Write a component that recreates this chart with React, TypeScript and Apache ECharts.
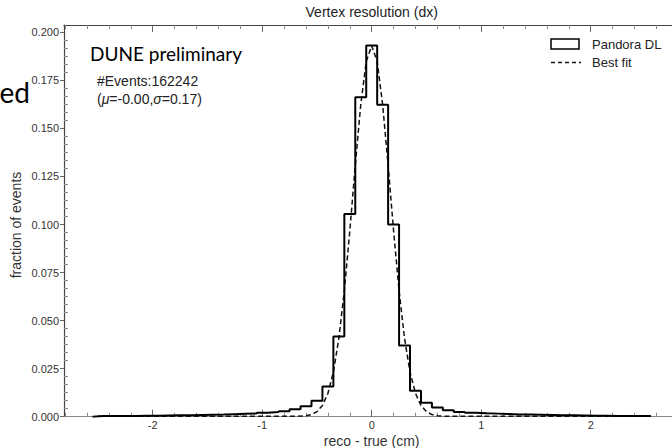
import React, { useEffect, useRef } from 'react';
import * as echarts from 'echarts';

// Histogram: bin centres (cm) and fraction of events per bin (bin width 0.1)
const binCenters = [
  -2.5, -2.4, -2.3, -2.2, -2.1, -2.0, -1.9, -1.8, -1.7, -1.6, -1.5, -1.4, -1.3,
  -1.2, -1.1, -1.0, -0.9, -0.8, -0.7, -0.6, -0.5, -0.4, -0.3, -0.2, -0.1,
  0.0,
  0.1, 0.2, 0.3, 0.4, 0.5, 0.6, 0.7, 0.8, 0.9, 1.0, 1.1, 1.2, 1.3,
  1.4, 1.5, 1.6, 1.7, 1.8, 1.9, 2.0, 2.1, 2.2, 2.3, 2.4, 2.5,
];
const binFractions = [
  0.0003, 0.0003, 0.0004, 0.0004, 0.0005, 0.0005, 0.0006, 0.0007, 0.0008, 0.0009, 0.0010, 0.0011, 0.0013,
  0.0015, 0.0017, 0.0021, 0.0024, 0.0029, 0.0039, 0.0054, 0.0083, 0.0157, 0.0417, 0.1054, 0.1662,
  0.1931,
  0.1623, 0.1000, 0.0370, 0.0135, 0.0073, 0.0048, 0.0033, 0.0025, 0.0021, 0.0018, 0.0016, 0.0014, 0.0012,
  0.0011, 0.0010, 0.0009, 0.0008, 0.0007, 0.0006, 0.0005, 0.0005, 0.0004, 0.0004, 0.0003, 0.0003,
];
const binWidth = 0.1;

// Best-fit curve
const fitX = [
  -2.5, -2.0, -1.5, -1.0, -0.8, -0.7, -0.65, -0.6, -0.55, -0.5, -0.45, -0.4, -0.35, -0.3, -0.25,
  -0.2, -0.15, -0.1, -0.05, 0.0, 0.05, 0.1, 0.15, 0.2, 0.25, 0.3, 0.35, 0.4, 0.45, 0.5, 0.55,
  0.6, 0.65, 0.7, 0.8, 1.0, 1.5, 2.0, 2.5,
];
const fitY = [
  0.0002, 0.0002, 0.0002, 0.0002, 0.0002, 0.0002, 0.0003, 0.0005, 0.0011, 0.0026, 0.0058, 0.0121, 0.0232, 0.0407, 0.0655,
  0.0966, 0.1308, 0.1623, 0.1848, 0.1930, 0.1848, 0.1623, 0.1308, 0.0966, 0.0655, 0.0407, 0.0232, 0.0121, 0.0058, 0.0026, 0.0011,
  0.0005, 0.0003, 0.0002, 0.0002, 0.0002, 0.0002, 0.0002, 0.0002,
];

const xMajorTicks = [-2, -1, 0, 1, 2];
const yMajorTicks = [0, 0.025, 0.05, 0.075, 0.1, 0.125, 0.15, 0.175, 0.2];
const X_MIN = -2.81;
const X_MAX = 2.81;
const Y_MIN = 0;
const Y_MAX = 0.2038;

const FONT = '"Liberation Sans", Arial, sans-serif';

function minorTicks(majors: number[], sub: number, min: number, max: number): number[] {
  const major = majors[1] - majors[0];
  const step = major / sub;
  const start = majors[0] - major;
  const n = Math.round((majors[majors.length - 1] + major - start) / step);
  const out: number[] = [];
  for (let i = 0; i <= n; i++) {
    const v = Math.round((start + i * step) * 1e7) / 1e7;
    if (v > min && v < max && !majors.some((m) => Math.abs(m - v) < 1e-9)) out.push(v);
  }
  return out;
}

export default function App() {
  const ref = useRef<HTMLDivElement>(null);

  useEffect(() => {
    if (!ref.current) return;
    const chart = echarts.init(ref.current, undefined, { renderer: 'svg' });

    const histPts: number[][] = [];
    histPts.push([binCenters[0] - binWidth / 2, 0]);
    binCenters.forEach((c, i) => {
      histPts.push([c - binWidth / 2, binFractions[i]]);
      histPts.push([c + binWidth / 2, binFractions[i]]);
    });
    histPts.push([binCenters[binCenters.length - 1] + binWidth / 2, 0]);

    const fitPts = fitX.map((x, i) => [x, fitY[i]]);

    const xMinor = minorTicks(xMajorTicks, 5, X_MIN, X_MAX);
    const yMinor = minorTicks(yMajorTicks, 6, Y_MIN, Y_MAX);

    const axisColor = '#666';
    const baseX = {
      type: 'value' as const,
      min: X_MIN,
      max: X_MAX,
      splitLine: { show: false },
    };
    const baseY = {
      type: 'value' as const,
      min: Y_MIN,
      max: Y_MAX,
      splitLine: { show: false },
    };

    const txt = (text: string, x: number, y: number, size: number, align: string, extra: any = {}) => ({
      type: 'text',
      x,
      y,
      ...extra,
      style: {
        text,
        fontSize: size,
        fontFamily: FONT,
        fill: '#222',
        align,
        verticalAlign: 'middle',
        textAlign: align,
        textVerticalAlign: 'middle',
        ...(extra.style || {}),
      },
    });

    chart.setOption({
      animation: false,
      backgroundColor: '#fff',
      textStyle: { fontFamily: FONT },
      grid: {
        left: 64,
        top: 25,
        width: 615.4,
        height: 391.7,
        containLabel: false,
        outerBoundsMode: 'none',
      },
      xAxis: [
        {
          ...baseX,
          position: 'bottom',
          axisLine: { show: true, onZero: false, lineStyle: { color: '#888', width: 1.2 } },
          axisTick: { show: true, inside: true, length: 7, customValues: xMajorTicks, lineStyle: { color: axisColor } },
          axisLabel: { customValues: xMajorTicks, fontSize: 11, color: '#333', margin: 3, fontFamily: FONT },
        },
        {
          ...baseX,
          position: 'bottom',
          axisLine: { show: false, onZero: false },
          axisTick: { show: true, inside: true, length: 4, customValues: xMinor, lineStyle: { color: '#888' } },
          axisLabel: { show: false },
        },
        {
          ...baseX,
          position: 'top',
          axisLine: { show: true, onZero: false, lineStyle: { color: '#444', width: 1.2 } },
          axisTick: { show: true, inside: true, length: 7, customValues: xMajorTicks, lineStyle: { color: axisColor } },
          axisLabel: { show: false },
        },
        {
          ...baseX,
          position: 'top',
          axisLine: { show: false, onZero: false },
          axisTick: { show: true, inside: true, length: 4, customValues: xMinor, lineStyle: { color: '#888' } },
          axisLabel: { show: false },
        },
      ],
      yAxis: [
        {
          ...baseY,
          position: 'left',
          axisLine: { show: true, onZero: false, lineStyle: { color: '#444', width: 1.2 } },
          axisTick: { show: true, inside: false, length: 4, customValues: yMajorTicks, lineStyle: { color: axisColor } },
          axisLabel: {
            customValues: yMajorTicks,
            fontSize: 11,
            color: '#333',
            margin: 5,
            fontFamily: FONT,
            formatter: (v: number) => v.toFixed(3),
          },
        },
        {
          ...baseY,
          position: 'left',
          axisLine: { show: false, onZero: false },
          axisTick: { show: true, inside: true, length: 4, customValues: yMinor, lineStyle: { color: '#888' } },
          axisLabel: { show: false },
        },
        {
          ...baseY,
          position: 'right',
          axisLine: { show: true, onZero: false, lineStyle: { color: '#444', width: 1.2 } },
          axisTick: { show: true, inside: true, length: 7, customValues: yMajorTicks, lineStyle: { color: axisColor } },
          axisLabel: { show: false },
        },
        {
          ...baseY,
          position: 'right',
          axisLine: { show: false, onZero: false },
          axisTick: { show: true, inside: true, length: 4, customValues: yMinor, lineStyle: { color: '#888' } },
          axisLabel: { show: false },
        },
      ],
      series: [
        {
          name: 'Best fit',
          type: 'line',
          xAxisIndex: 0,
          yAxisIndex: 0,
          data: fitPts,
          showSymbol: false,
          symbol: 'none',
          lineStyle: { color: '#111', width: 1.5, type: [5, 3] },
          z: 2,
        },
        {
          name: 'Pandora DL',
          type: 'line',
          xAxisIndex: 0,
          yAxisIndex: 0,
          data: histPts,
          showSymbol: false,
          symbol: 'none',
          lineStyle: { color: '#000', width: 2 },
          z: 3,
        },
      ],
      graphic: [
        {
          type: 'text',
          x: 30,
          y: 106,
          style: {
            text: 'ed',
            fontSize: 28,
            fontFamily: 'Lato, "Open Sans", sans-serif',
            fill: '#000',
            align: 'right',
            verticalAlign: 'bottom',
            textAlign: 'right',
            textVerticalAlign: 'bottom',
          },
        },
        txt('Vertex resolution (dx)', 371.7, 12, 14, 'center'),
        txt('reco - true (cm)', 371.7, 441, 14, 'center', { style: { fill: '#333' } }),
        txt('fraction of events', 16, 225, 14, 'center', { rotation: Math.PI / 2, style: { fill: '#333' } }),
        {
          type: 'text',
          x: 90,
          y: 53,
          style: {
            text: 'DUNE preliminary',
            fontSize: 19,
            fontFamily: 'Lato, "Open Sans", sans-serif',
            fill: '#000',
            align: 'left',
            verticalAlign: 'middle',
            textAlign: 'left',
            textVerticalAlign: 'middle',
          },
        },
        txt('#Events:162242', 97, 81, 14, 'left'),
        txt('({i|μ}=-0.00,{i|σ}=0.17)', 97, 99, 14, 'left', {
          style: { rich: { i: { fontStyle: 'italic', fontSize: 14, fontFamily: FONT, fill: '#222' } } },
        }),
        {
          type: 'rect',
          shape: { x: 551, y: 39, width: 28, height: 10 },
          style: { fill: '#fff', stroke: '#000', lineWidth: 1.5 },
        },
        txt('Pandora DL', 592, 44, 13, 'left'),
        {
          type: 'line',
          shape: { x1: 551, y1: 62.5, x2: 581, y2: 62.5 },
          style: { stroke: '#111', lineWidth: 1.5, lineDash: [4, 3] },
        },
        txt('Best fit', 592, 62, 13, 'left'),
      ],
    });

    return () => {
      chart.dispose();
    };
  }, []);

  return <div ref={ref} style={{ width: 672, height: 448, position: 'absolute', left: 0, top: 0 }} />;
}
